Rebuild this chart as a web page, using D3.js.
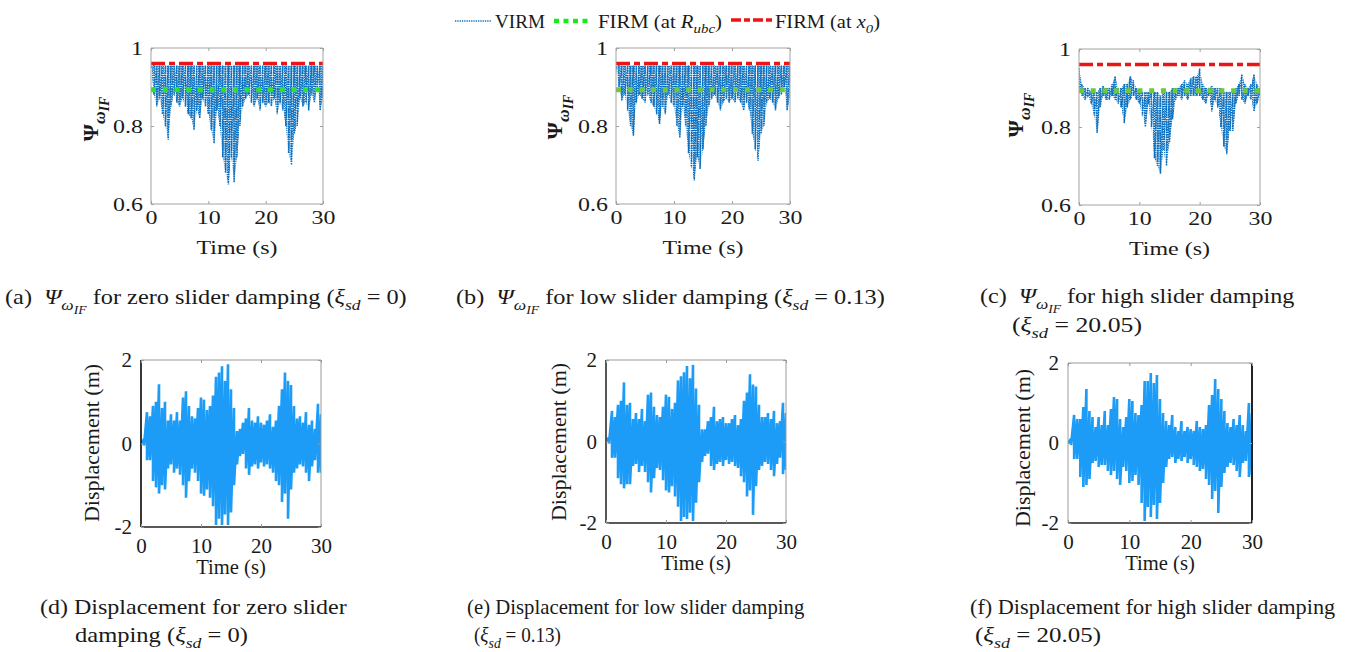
<!DOCTYPE html>
<html>
<head>
<meta charset="utf-8">
<script src="https://cdn.jsdelivr.net/npm/d3@7"></script>
<style>
  body { margin: 0; background: #fff; }
  svg, svg text { font-family: "Liberation Serif", "Times New Roman", serif; }
</style>
</head>
<body>
<svg id="fig" width="1352" height="652" font-family="Liberation Serif, Times New Roman, serif"></svg>
<script>
// ---------------- data ----------------
// common time grid (s) for the envelope samples
const timeGrid = [0,0.5,1,1.5,2,2.5,3,3.5,4,4.5,5,5.5,6,6.5,7,7.5,8,8.5,9,9.5,
  10,10.5,11,11.5,12,12.5,13,13.5,14,14.5,15,15.5,16,16.5,17,17.5,18,18.5,19,19.5,
  20,20.5,21,21.5,22,22.5,23,23.5,24,24.5,25,25.5,26,26.5,27,27.5,28,28.5,29,29.5,30];

const timeTicks = [0, 10, 20, 30];
const psiTicks = [0.6, 0.8, 1];
const psiTickLabels = ["0.6", "0.8", "1"];
const dispTicks = [-2, 0, 2];
const dispTickLabels = ["-2", "0", "2"];

// FIRM reference levels
const firmAtRubc = 0.893;
const firmAtX0 = 0.96;

// VIRM index: oscillation peaks / troughs, zero slider damping
const psiUpperA = [0.95,0.955,0.955,0.955,0.955,0.955,0.955,0.955,0.955,0.955,
  0.955,0.955,0.955,0.955,0.955,0.955,0.955,0.955,0.955,0.955,
  0.955,0.955,0.955,0.955,0.955,0.955,0.955,0.955,0.955,0.955,
  0.955,0.955,0.955,0.955,0.955,0.955,0.955,0.955,0.955,0.955,
  0.955,0.955,0.955,0.955,0.955,0.955,0.955,0.955,0.955,0.955,
  0.955,0.955,0.955,0.955,0.955,0.955,0.955,0.955,0.955,0.955,0.955];
const psiLowerA = [0.95,0.88,0.85,0.87,0.83,0.80,0.765,0.85,0.88,0.86,
  0.85,0.87,0.85,0.83,0.82,0.79,0.84,0.82,0.87,0.85,
  0.83,0.79,0.755,0.84,0.80,0.72,0.68,0.65,0.72,0.655,
  0.72,0.80,0.85,0.87,0.88,0.86,0.85,0.87,0.84,0.86,
  0.85,0.86,0.85,0.87,0.83,0.86,0.84,0.80,0.73,0.70,
  0.78,0.80,0.87,0.85,0.86,0.84,0.88,0.86,0.90,0.84,0.87];

// low slider damping
const psiUpperB = [0.95,0.955,0.955,0.955,0.955,0.955,0.955,0.955,0.955,0.955,
  0.955,0.955,0.955,0.955,0.955,0.955,0.955,0.955,0.955,0.955,
  0.955,0.955,0.955,0.955,0.955,0.955,0.955,0.955,0.955,0.955,
  0.955,0.955,0.955,0.955,0.955,0.955,0.955,0.955,0.955,0.955,
  0.955,0.955,0.955,0.955,0.955,0.955,0.955,0.955,0.955,0.955,
  0.955,0.955,0.955,0.955,0.955,0.955,0.955,0.955,0.955,0.955,0.955];
const psiLowerB = [0.95,0.90,0.865,0.88,0.84,0.80,0.775,0.86,0.88,0.87,
  0.86,0.88,0.86,0.85,0.83,0.805,0.85,0.83,0.88,0.86,
  0.85,0.80,0.77,0.85,0.80,0.73,0.695,0.66,0.72,0.69,
  0.74,0.80,0.85,0.87,0.88,0.86,0.84,0.86,0.87,0.86,
  0.87,0.86,0.87,0.86,0.84,0.86,0.84,0.78,0.74,0.71,
  0.78,0.80,0.86,0.87,0.86,0.84,0.87,0.88,0.90,0.84,0.87];

// high slider damping
const psiUpperC = [0.95,0.91,0.90,0.90,0.89,0.89,0.89,0.90,0.905,0.90,
  0.90,0.91,0.93,0.90,0.90,0.91,0.91,0.93,0.92,0.90,
  0.895,0.89,0.89,0.89,0.89,0.89,0.89,0.88,0.89,0.89,
  0.89,0.90,0.90,0.90,0.91,0.92,0.91,0.925,0.93,0.93,
  0.95,0.91,0.90,0.90,0.905,0.90,0.90,0.90,0.89,0.89,
  0.89,0.89,0.90,0.91,0.935,0.91,0.90,0.91,0.935,0.91,0.90];
const psiLowerC = [0.90,0.88,0.87,0.88,0.86,0.83,0.785,0.85,0.88,0.87,
  0.87,0.88,0.87,0.86,0.85,0.81,0.85,0.87,0.88,0.87,
  0.86,0.83,0.80,0.86,0.80,0.72,0.70,0.68,0.74,0.70,
  0.76,0.82,0.87,0.88,0.87,0.88,0.87,0.88,0.88,0.88,
  0.88,0.87,0.86,0.88,0.84,0.87,0.85,0.80,0.75,0.73,
  0.79,0.79,0.86,0.88,0.87,0.86,0.88,0.87,0.84,0.86,0.88];

// displacement (m): oscillation peaks / troughs
const dispUpperD = [0,0.1,0.75,0.65,0.9,1.0,1.42,0.85,1.0,0.55,
  0.7,0.55,0.75,0.55,1.1,1.25,0.9,0.65,0.6,0.85,
  1.1,1.05,0.8,0.9,1.15,1.6,1.7,1.85,1.5,1.9,
  1.3,0.85,0.3,0.35,0.5,0.6,0.85,0.55,0.5,0.65,
  0.5,0.45,0.55,0.7,0.4,0.55,0.9,1.3,1.7,1.5,
  1.4,0.9,0.6,0.65,0.5,0.75,0.45,0.55,0.35,0.95,0.7];
const dispLowerD = [0,-0.05,-0.4,-0.4,-0.9,-1.05,-1.2,-1.0,-1.1,-0.6,
  -0.5,-0.7,-0.6,-0.75,-1.0,-1.3,-0.9,-0.6,-0.7,-0.9,
  -1.2,-1.25,-1.1,-1.3,-1.5,-1.95,-1.8,-1.95,-1.7,-1.95,
  -1.65,-1.0,-0.5,-0.3,-0.25,-0.6,-0.75,-0.55,-0.5,-0.6,
  -0.45,-0.55,-0.5,-0.6,-0.7,-0.9,-1.0,-1.4,-1.2,-1.8,
  -1.1,-0.7,-0.6,-0.5,-0.55,-0.7,-0.9,-0.55,-0.4,-0.7,-0.7];

const dispUpperE = [0,0.1,0.75,0.6,0.9,1.0,1.45,0.9,0.95,0.55,
  0.7,0.55,0.8,0.5,1.15,1.2,0.85,0.65,0.6,0.85,
  1.15,1.1,0.8,0.95,1.5,1.6,1.7,1.85,1.55,1.88,
  1.3,0.9,0.3,0.3,0.5,0.6,0.85,0.5,0.55,0.6,
  0.45,0.45,0.55,0.65,0.4,0.55,1.0,1.2,1.65,1.4,
  1.35,0.9,0.6,0.6,0.7,0.55,0.75,0.45,0.5,0.95,0.7];
const dispLowerE = [0,-0.05,-0.4,-0.4,-0.9,-1.05,-1.15,-1.05,-1.05,-0.6,
  -0.55,-0.75,-0.6,-0.75,-1.0,-1.25,-0.9,-0.65,-0.7,-0.95,
  -1.2,-1.25,-1.1,-1.35,-1.6,-1.95,-1.85,-1.9,-1.75,-1.95,
  -1.5,-1.0,-0.5,-0.35,-0.3,-0.6,-0.7,-0.55,-0.5,-0.6,
  -0.45,-0.55,-0.5,-0.6,-0.65,-0.85,-1.0,-1.35,-1.2,-1.8,
  -1.1,-0.7,-0.6,-0.5,-0.55,-0.7,-0.85,-0.55,-0.4,-0.8,-0.7];

const dispUpperF = [0,0.1,0.7,0.6,0.6,0.9,1.35,0.8,0.65,0.4,
  0.65,0.45,0.8,0.45,0.85,1.15,1.1,0.6,0.4,0.65,
  1.1,1.05,0.75,0.7,0.95,1.55,1.55,1.75,1.5,1.7,
  1.1,0.75,0.55,0.45,0.7,0.4,0.3,0.55,0.3,0.4,
  0.35,0.3,0.55,0.4,0.35,0.45,0.95,1.2,1.6,1.35,
  1.1,0.8,0.5,0.4,0.6,0.45,0.7,0.45,0.3,1.0,0.75];
const dispLowerF = [0,-0.05,-0.4,-0.4,-0.85,-1.1,-1.05,-0.9,-0.5,-0.45,
  -0.6,-0.55,-0.55,-0.7,-0.8,-0.7,-0.9,-1.05,-0.6,-0.7,
  -1.0,-0.95,-0.8,-1.05,-1.5,-1.95,-1.6,-1.85,-1.55,-1.9,
  -1.5,-1.0,-0.6,-0.4,-0.35,-0.5,-0.4,-0.45,-0.35,-0.5,
  -0.4,-0.55,-0.6,-0.7,-0.65,-0.9,-1.05,-1.4,-1.2,-1.75,
  -1.1,-0.75,-0.6,-0.5,-0.55,-0.7,-0.85,-0.5,-0.45,-0.85,-0.8];

// ---------------- styles ----------------
const FONT = '"Liberation Serif", "Times New Roman", serif';
const BLUE_VIRM = "#0a6fbf";
const BLUE_DISP = "#1c9cf6";
const RED = "#ee1414";
const TEXT = "#1a1a1a";

const svg = d3.select("#fig");
const defs = svg.append("defs");
// dotted texture used inside the VIRM band
const dots = defs.append("pattern").attr("id", "virmDots")
  .attr("patternUnits", "userSpaceOnUse").attr("width", 2.2).attr("height", 2.2);
dots.append("rect").attr("x", 0).attr("y", 0).attr("width", 1.4).attr("height", 1.4).attr("fill", BLUE_VIRM);

// peaks and troughs joined in time order
function peakTroughPoints(upper, lower) {
  const pts = [];
  timeGrid.forEach((t, i) => { pts.push([t, upper[i]]); pts.push([t, lower[i]]); });
  return pts;
}

// horizontally fit a text element between x0 and x1 on a baseline
function fitText(sel, x0, x1, baseline) {
  const bb = sel.node().getBBox();
  const sx = (x1 - x0) / bb.width;
  sel.attr("transform", `translate(${x0 - bb.x * sx},${baseline}) scale(${sx},1)`);
}

// rich text with italic parts and subscripts
// kinds: n normal, i italic, s subscript italic, ss second-level subscript italic
function richText(parent, parts, size, opts = {}) {
  const subScale = opts.subScale || 0.72;
  const t = parent.append("text").attr("x", 0).attr("y", 0)
    .attr("font-family", FONT)
    .attr("font-size", size).attr("fill", TEXT)
    .attr("font-weight", opts.bold ? "bold" : null);
  const offs = { n: 0, i: 0, s: size * 0.3, ss: size * 0.48 };
  const sizes = { n: size, i: size, s: size * subScale, ss: size * subScale * 0.78 };
  let cur = 0;
  parts.forEach(([str, kind]) => {
    t.append("tspan").text(str)
      .attr("font-size", sizes[kind])
      .attr("font-style", kind === "n" ? "normal" : "italic")
      .attr("dy", offs[kind] - cur);
    cur = offs[kind];
  });
  t.attr("xml:space", "preserve");
  return t;
}

// ---------------- panels ----------------
const psiPanels = [
  { box: [151, 323, 48, 204], upper: psiUpperA, lower: psiLowerA, green: "#2fe02f", lab: [98, 119] },
  { box: [616, 790, 48, 204], upper: psiUpperB, lower: psiLowerB, green: "#6cc83c", lab: [562, 117] },
  { box: [1079, 1260, 49, 205], upper: psiUpperC, lower: psiLowerC, green: "#6cc83c", lab: [1023, 115] }
];
const dispPanels = [
  { box: [141, 321, 360, 527], upper: dispUpperD, lower: dispLowerD, lab: [99, 443],
    edge: { l: "#222", b: "#222", t: "#9a9a9a", r: "#9a9a9a" } },
  { box: [606, 786, 360, 523], upper: dispUpperE, lower: dispLowerE, lab: [566, 442],
    edge: { l: "#444", b: "#222", t: "#9a9a9a", r: "#9a9a9a" } },
  { box: [1068, 1252, 363, 523], upper: dispUpperF, lower: dispLowerF, lab: [1030, 448],
    edge: { l: "#9a9a9a", b: "#222", t: "#9a9a9a", r: "#222" } }
];

let clipId = 0;
function frame(g, x, y, edge, widths) {
  const [x0, x1] = x.range(); const [y1, y0] = y.range();
  g.append("line").attr("x1", x0).attr("x2", x1).attr("y1", y0).attr("y2", y0).attr("stroke", edge.t).attr("stroke-width", widths.t);
  g.append("line").attr("x1", x1).attr("x2", x1).attr("y1", y0).attr("y2", y1).attr("stroke", edge.r).attr("stroke-width", widths.r);
  g.append("line").attr("x1", x0).attr("x2", x1).attr("y1", y1).attr("y2", y1).attr("stroke", edge.b).attr("stroke-width", widths.b);
  g.append("line").attr("x1", x0).attr("x2", x0).attr("y1", y0).attr("y2", y1).attr("stroke", edge.l).attr("stroke-width", widths.l);
}

function axes(g, x, y, yTicks, yLabels, fontSize, sx, color, pad) {
  const [x0, x1] = x.range(); const [y1, y0] = y.range();
  const bottom = g.append("g").attr("transform", `translate(0,${y1})`)
    .call(d3.axisBottom(x).tickValues(timeTicks).tickSize(-3).tickSizeOuter(0).tickPadding(0).tickFormat(d3.format("d")));
  const top = g.append("g").attr("transform", `translate(0,${y0})`)
    .call(d3.axisTop(x).tickValues(timeTicks).tickSize(-3).tickSizeOuter(0).tickFormat(""));
  const left = g.append("g").attr("transform", `translate(${x0},0)`)
    .call(d3.axisLeft(y).tickValues(yTicks).tickSize(-3).tickSizeOuter(0).tickFormat((d, i) => yLabels[i]));
  const right = g.append("g").attr("transform", `translate(${x1},0)`)
    .call(d3.axisRight(y).tickValues(yTicks).tickSize(-3).tickSizeOuter(0).tickFormat(""));
  [bottom, top, left, right].forEach(a => {
    a.select(".domain").remove();
    a.selectAll(".tick line").attr("stroke", color);
    a.attr("font-family", FONT).attr("font-size", null);
  });
  bottom.selectAll(".tick text")
    .attr("x", null).attr("y", null).attr("dy", null)
    .attr("font-family", FONT)
    .attr("font-size", fontSize).attr("fill", TEXT)
    .attr("text-anchor", "middle")
    .attr("transform", `translate(0,${pad.x}) scale(${sx},1)`);
  left.selectAll(".tick text")
    .attr("x", null).attr("y", null).attr("dy", "0.33em")
    .attr("font-family", FONT)
    .attr("font-size", fontSize).attr("fill", TEXT)
    .attr("text-anchor", "end")
    .attr("transform", `translate(${-pad.y},0) scale(${sx},1)`);
}

// Ψ panels
psiPanels.forEach(p => {
  const [bx0, bx1, by0, by1] = p.box;
  const x = d3.scaleLinear().domain([0, 30]).range([bx0, bx1]);
  const y = d3.scaleLinear().domain([0.6, 1]).range([by1, by0]);
  const g = svg.append("g");
  const id = "clip" + (clipId++);
  g.append("clipPath").attr("id", id).append("rect")
    .attr("x", bx0).attr("y", by0).attr("width", bx1 - bx0).attr("height", by1 - by0);
  const plot = g.append("g").attr("clip-path", `url(#${id})`);
  const line = d3.line().x(d => x(d[0])).y(d => y(d[1]));
  const band = d3.area().x(d => x(d)).y0((d, i) => y(p.lower[i])).y1((d, i) => y(p.upper[i]));
  plot.append("path").attr("d", band(timeGrid)).attr("fill", "url(#virmDots)");
  plot.append("path").attr("d", line(peakTroughPoints(p.upper, p.lower)))
    .attr("fill", "none").attr("stroke", BLUE_VIRM).attr("stroke-width", 1.5)
    .attr("stroke-dasharray", "1.5,1");
  plot.append("path").attr("d", line([[0, firmAtRubc], [30, firmAtRubc]]))
    .attr("fill", "none").attr("stroke", p.green).attr("stroke-width", 5)
    .attr("stroke-dasharray", "5,6.7");
  plot.append("path").attr("d", line([[0, firmAtX0], [30, firmAtX0]]))
    .attr("fill", "none").attr("stroke", RED).attr("stroke-width", 3.5)
    .attr("stroke-dasharray", "14,4,6,4");
  const c = "#a3a3a3";
  frame(g, x, y, { t: c, r: c, b: c, l: c }, { t: 1, r: 1, b: 1, l: 1 });
  axes(g, x, y, psiTicks, psiTickLabels, 19, 1.26, c, { x: 20, y: 8 });
  // axis titles
  const cx = (bx0 + bx1) / 2;
  g.append("text").attr("x", 0).attr("y", 0)
    .attr("transform", `translate(${cx},${by1 + 50}) scale(1.26,1)`)
    .attr("text-anchor", "middle").attr("font-family", FONT).attr("font-size", 19).attr("fill", TEXT)
    .text("Time (s)");
  const yl = g.append("g").attr("transform", `translate(${p.lab[0]},${p.lab[1]}) rotate(-90)`);
  const t = richText(yl, [["Ψ", "n"], ["ω", "s"], ["IF", "ss"]], 22, { bold: true, subScale: 0.8 });
  t.attr("text-anchor", "middle");
});

// displacement panels
dispPanels.forEach(p => {
  const [bx0, bx1, by0, by1] = p.box;
  const x = d3.scaleLinear().domain([0, 30]).range([bx0, bx1]);
  const y = d3.scaleLinear().domain([-2, 2]).range([by1, by0]);
  const g = svg.append("g");
  const id = "clip" + (clipId++);
  g.append("clipPath").attr("id", id).append("rect")
    .attr("x", bx0).attr("y", by0 - 1).attr("width", bx1 - bx0).attr("height", by1 - by0 + 2);
  const plot = g.append("g").attr("clip-path", `url(#${id})`);
  const line = d3.line().x(d => x(d[0])).y(d => y(d[1]));
  plot.append("path").attr("d", line(peakTroughPoints(p.upper, p.lower)))
    .attr("fill", "none").attr("stroke", BLUE_DISP).attr("stroke-width", 2.6)
    .attr("stroke-linejoin", "miter");
  frame(g, x, y, p.edge, { t: 1, r: p.edge.r === "#222" ? 2 : 1, b: 1.5, l: p.edge.l === "#9a9a9a" ? 1 : 1.8 });
  axes(g, x, y, dispTicks, dispTickLabels, 20, 1.05, "#9a9a9a", { x: 26, y: 9 });
  g.append("text").attr("x", 0).attr("y", 0)
    .attr("transform", `translate(${(bx0 + bx1) / 2},${by1 + 47}) scale(1.03,1)`)
    .attr("text-anchor", "middle").attr("font-family", FONT).attr("font-size", 20).attr("fill", TEXT)
    .text("Time (s)");
  g.append("text").attr("transform", `translate(${p.lab[0]},${p.lab[1]}) rotate(-90)`)
    .attr("text-anchor", "middle").attr("font-family", FONT).attr("font-size", 22).attr("fill", TEXT)
    .text("Displacement (m)");
});

// ---------------- legend ----------------
const leg = svg.append("g");
leg.append("line").attr("x1", 455).attr("x2", 491).attr("y1", 21).attr("y2", 21)
  .attr("stroke", BLUE_VIRM).attr("stroke-width", 1.3).attr("stroke-dasharray", "1.3,1");
fitText(richText(leg, [["VIRM", "n"]], 18), 495, 545, 28);
leg.append("line").attr("x1", 554).attr("x2", 592).attr("y1", 21).attr("y2", 21)
  .attr("stroke", "#17ec17").attr("stroke-width", 4.5).attr("stroke-dasharray", "5,4.5");
fitText(richText(leg, [["FIRM (at ", "n"], ["R", "i"], ["ubc", "s"], [")", "n"]], 18), 598, 722, 28);
leg.append("line").attr("x1", 731).attr("x2", 772).attr("y1", 20).attr("y2", 20)
  .attr("stroke", RED).attr("stroke-width", 3.5).attr("stroke-dasharray", "10,3,6,3");
fitText(richText(leg, [["FIRM (at ", "n"], ["x", "i"], ["0", "s"], [")", "n"]], 18), 775, 880, 28);

// ---------------- captions ----------------
const cap = svg.append("g");
const psiSub = [["Ψ", "i"], ["ω", "s"], ["IF", "ss"]];
const xiSub = [["ξ", "i"], ["sd", "s"]];
function captionLine(parts, x0, x1, baseline) {
  fitText(richText(cap, parts, 21), x0, x1, baseline);
}
captionLine([["(a)  ", "n"], ...psiSub, [" for zero slider damping (", "n"], ...xiSub, [" = 0)", "n"]], 5, 407, 304);
captionLine([["(b)  ", "n"], ...psiSub, [" for low slider damping (", "n"], ...xiSub, [" = 0.13)", "n"]], 456, 885, 304);
captionLine([["(c)  ", "n"], ...psiSub, [" for high slider damping", "n"]], 980, 1295, 303);
captionLine([["(", "n"], ...xiSub, [" = 20.05)", "n"]], 1012, 1142, 332);
captionLine([["(d) Displacement for zero slider", "n"]], 40, 347, 614);
captionLine([["damping (", "n"], ...xiSub, [" = 0)", "n"]], 75, 248, 642);
captionLine([["(e) Displacement for low slider damping", "n"]], 467, 805, 614);
captionLine([["(", "n"], ...xiSub, [" = 0.13)", "n"]], 474, 561, 642);
captionLine([["(f) Displacement for high slider damping", "n"]], 970, 1336, 614);
captionLine([["(", "n"], ...xiSub, [" = 20.05)", "n"]], 975, 1101, 642);
</script>
</body>
</html>
